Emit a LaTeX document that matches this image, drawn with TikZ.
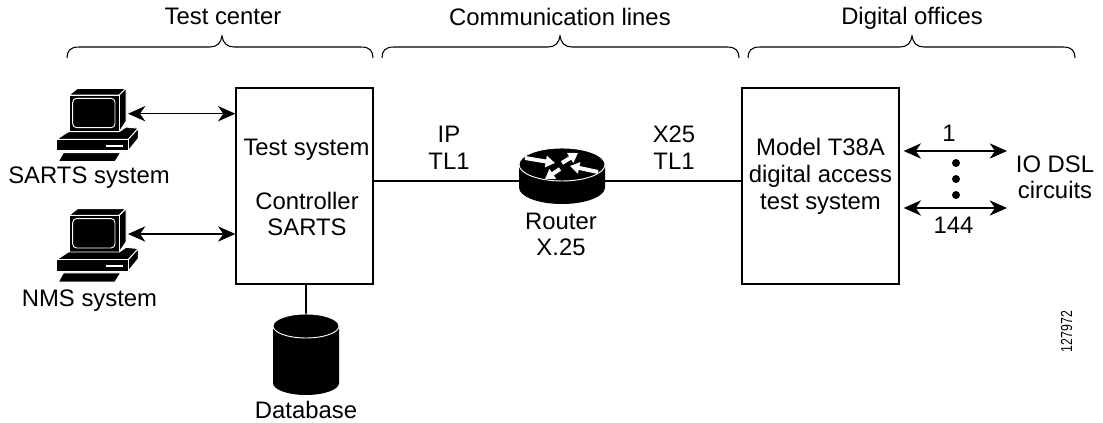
\documentclass[tikz,border=0pt]{standalone}
\usepackage{fontspec}
\setmainfont{Liberation Sans}
\usetikzlibrary{arrows.meta,calc}
\tikzset{
  lbl/.style={inner sep=0pt,font=\fontsize{17.9pt}{20pt}\selectfont,align=center},
  sysbox/.style={draw=black,line width=1pt,fill=white,minimum height=147pt,inner sep=0pt},
  wire/.style={line width=1pt,draw=black},
  dblarrow/.style={line width=1pt,draw=black,{Stealth[length=13pt,width=11.5pt,inset=4pt]}-{Stealth[length=13pt,width=11.5pt,inset=4pt]}},
  brace/.style={line width=0.8pt,draw=black},
  rarrow/.style={line width=3pt,draw=white,-{Triangle[length=7pt,width=8.5pt]},fill=white},
  blackface/.style={fill=black,draw=white,line width=0.7pt,line join=round},
  dotmark/.style={circle,fill=black,inner sep=0pt,minimum size=6pt},
  pcicon/.pic={
    \path[blackface] (69,95) -- (77.7,88.3) -- (126,88.3) -- (119.3,95) -- cycle;
    \path[blackface] (119.3,95) -- (126,88.3) -- (126,121.7) -- (119.3,131.7) -- cycle;
    \path[blackface] (69,95) rectangle (119.3,131.7);
    \path[blackface] (68.3,131.7) -- (119.3,131.7) -- (126,127) -- (138.3,128.3) -- (128.3,139.3) -- (56.7,139.3) -- cycle;
    \path[blackface] (128.3,139.3) -- (138.3,128.3) -- (138.3,138.3) -- (128.3,150.7) -- cycle;
    \path[blackface] (56.7,139.3) rectangle (128.3,150.7);
    \draw[white,line width=0.7pt,rounded corners=3pt] (72.7,98.3) rectangle (115,127.7);
    \draw[white,line width=1.3pt] (105.5,145.7) -- (123,145.7);
    \path[blackface] (63.3,152.7) -- (120.7,152.7) -- (115,161.7) -- (58.3,161.7) -- cycle;
  }
}
\begin{document}
\begin{tikzpicture}[x=0.75pt,y=-0.75pt]
\useasboundingbox (0,0) rectangle (1103,423);
\foreach \a/\t/\b in {67/222/373,382/560/739,748/912/1075}{
  \draw[brace] (\a,58) .. controls (\a,51) and (\a+3,47) .. (\a+12,47)
    -- (\t-12,47) .. controls (\t-5,47) and (\t-1,43) .. (\t,36)
    .. controls (\t+1,43) and (\t+5,47) .. (\t+12,47)
    -- (\b-12,47) .. controls (\b-3,47) and (\b,51) .. (\b,58);
}
\node[lbl] (tc) at (223,16.5) {Test center};
\node[lbl] (cl) at (560,16.5) {Communication lines};
\node[lbl] (dof) at (912,18.8) {Digital offices};
\node[sysbox,minimum width=102.75pt] (box1) at (304.5,186) {};
\node[sysbox,minimum width=117.75pt] (box2) at (820.5,186) {};
\node[lbl] (t1) at (306.5,150) {Test system};
\node[lbl] (t2) at (307,214) {Controller\\SARTS};
\node[lbl] (t3) at (820.5,176.5) {Model T38A\\digital access\\test system};
\pic at (0,0) {pcicon};
\pic at (0,120.3) {pcicon};
\coordinate (pc1) at (128,113.7);
\coordinate (pc2) at (128,234);
\draw[dblarrow] (pc1) -- (pc1 -| box1.west);
\draw[dblarrow] (pc2) -- (pc2 -| box1.west);
\node[lbl] (l1) at (89,178) {SARTS system};
\node[lbl] (l2) at (89.5,301) {NMS system};
\node[inner sep=0pt,minimum width=64.5pt,minimum height=49.5pt] (router) at (562,181) {};
\draw[wire] (box1.east |- router) -- (router.west);
\draw[wire] (router.east) -- (box2.west |- router);
\fill[black] (519,165) -- (519,187.5) arc[start angle=180,end angle=0,x radius=43,y radius=16.5] -- (605,165) -- cycle;
\filldraw[fill=black,draw=white,line width=0.7pt] (562,164.5) ellipse[x radius=43,y radius=16.5];
\draw[rarrow] (525,158) -- (555,163);
\draw[rarrow] (562,163) -- (578,153);
\draw[rarrow] (598,172) -- (570,166);
\draw[rarrow] (560,169) -- (545,179);
\node[lbl] (rt) at (561,234.5) {Router\\X.25};
\node[lbl] (a1) at (449,148) {IP\\TL1};
\node[lbl] (a2) at (674,148) {X25\\TL1};
\node[inner sep=0pt,minimum width=49.5pt,minimum height=60.75pt] (db) at (306,354.5) {};
\draw[wire] (db.north |- box1.south) -- (db.north);
\fill[black] (273,326) -- (273,383) arc[start angle=180,end angle=0,x radius=33,y radius=12] -- (339,326) -- cycle;
\filldraw[fill=black,draw=white,line width=0.7pt] (306,326) ellipse[x radius=33,y radius=12];
\node[lbl] (dbl) at (306,410) {Database};
\coordinate (c1) at (1007,151);
\coordinate (c2) at (1007,208);
\draw[dblarrow] (box2.east |- c1) ++(4,0) -- (c1);
\draw[dblarrow] (box2.east |- c2) ++(4,0) -- (c2);
\node[dotmark] (d1) at (956,163) {};
\node[dotmark] (d2) at (956,179) {};
\node[dotmark] (d3) at (956,195) {};
\node[lbl] (n1) at (949,133.5) {1};
\node[lbl] (n2) at (953.6,225.5) {144};
\node[lbl] (io) at (1055,177.4) {IO DSL\\circuits};
\node[inner sep=0pt,transform shape,rotate=90,xscale=0.77,font=\fontsize{12pt}{14pt}\selectfont] (id) at (1066.5,331.5) {127972};
\end{tikzpicture}
\end{document}
